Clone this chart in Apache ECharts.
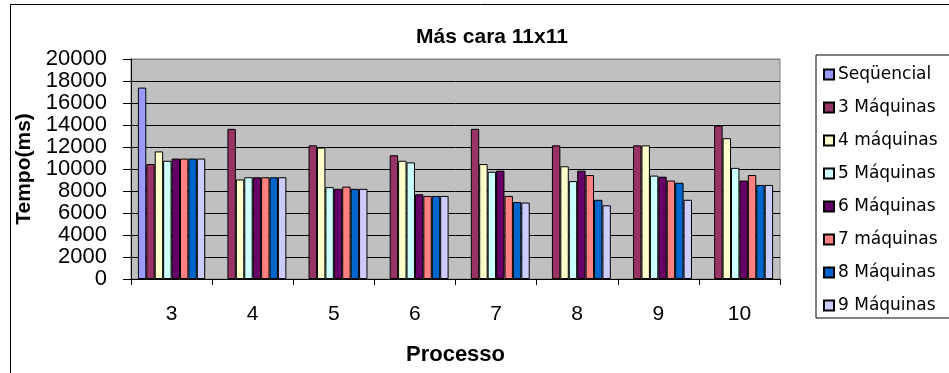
<!DOCTYPE html>
<html>
<head>
<meta charset="utf-8">
<script src="https://cdn.jsdelivr.net/npm/echarts@6/dist/echarts.min.js"></script>
<style>
html,body{margin:0;padding:0;background:#fff;}
#chart{width:949px;height:373px;}
</style>
</head>
<body>
<div id="chart"></div>
<script>
var categories = ['3', '4', '5', '6', '7', '8', '9', '10'];
var seriesNames = ['Seqüencial', '3 Máquinas', '4 máquinas', '5 Máquinas', '6 Máquinas', '7 máquinas', '8 Máquinas', '9 Máquinas'];
var seqencial = [17400, null, null, null, null, null, null, null];
var maq3 = [10450, 13650, 12150, 11250, 13650, 12150, 12150, 13950];
var maq4 = [11600, 9050, 11950, 10750, 10450, 10250, 12150, 12800];
var maq5 = [10750, 9250, 8350, 10600, 9750, 8900, 9400, 10100];
var maq6 = [10950, 9250, 8200, 7700, 9850, 9850, 9300, 8950];
var maq7 = [10950, 9250, 8400, 7550, 7550, 9450, 8950, 9450];
var maq8 = [10950, 9250, 8200, 7550, 7000, 7200, 8750, 8550];
var maq9 = [10950, 9250, 8200, 7550, 6950, 6700, 7200, 8550];
var colors = ['#9999FF', '#993366', '#FFFFCC', '#CCFFFF', '#660066', '#FF8080', '#0066CC', '#CCCCFF'];
var titleText = 'Más cara 11x11';
var yName = 'Tempo(ms)';
var xName = 'Processo';

var allData = [seqencial, maq3, maq4, maq5, maq6, maq7, maq8, maq9];
var series = allData.map(function (d, i) {
  return {
    name: seriesNames[i],
    type: 'bar',
    data: d,
    barGap: '0%',
    barCategoryGap: '17%',
    itemStyle: { color: colors[i], borderColor: '#000', borderWidth: 1 }
  };
});

var splitColors = ['#000','#000','#000','#000','#000','#000','#000','#000','#000','#000','#808080'];

var chart = echarts.init(document.getElementById('chart'), null, { renderer: 'canvas' });
chart.setOption({
  animation: false,
  backgroundColor: '#fff',
  title: {
    text: titleText,
    left: 487, top: 22, textAlign: 'center',
    textStyle: { fontFamily: 'Liberation Sans', fontWeight: 'bold', fontSize: 21, color: '#000' }
  },
  graphic: [{
    type: 'rect', z: -1,
    shape: { x: 10.5, y: 4.5, width: 960, height: 400 },
    style: { fill: 'none', stroke: '#000', lineWidth: 1 }
  }],
  legend: {
    orient: 'vertical',
    left: 816, top: 55,
    padding: [11, 40, 4, 7],
    itemGap: 16,
    itemWidth: 10, itemHeight: 10,
    icon: 'rect',
    borderColor: '#000', borderWidth: 1,
    textStyle: { fontFamily: 'DejaVu Sans', fontSize: 17, lineHeight: 17, color: '#000', padding: [0, 0, 0, -1] },
    data: seriesNames
  },
  grid: {
    left: 131, right: 169, top: 59, bottom: 94,
    show: true, backgroundColor: '#C0C0C0', borderColor: '#808080', borderWidth: 1
  },
  xAxis: {
    type: 'category',
    data: categories,
    name: xName,
    nameLocation: 'middle',
    nameGap: 65,
    nameTextStyle: { fontFamily: 'Liberation Sans', fontWeight: 'bold', fontSize: 22, color: '#000' },
    axisLine: { show: true, lineStyle: { color: '#000', width: 1 } },
    axisTick: { show: true, inside: false, length: 6, lineStyle: { color: '#000' } },
    axisLabel: { margin: 25, fontFamily: 'Liberation Sans', fontSize: 21, color: '#000' },
    splitLine: { show: false }
  },
  yAxis: {
    type: 'value',
    min: 0, max: 20000, interval: 2000,
    name: yName,
    nameLocation: 'middle',
    nameRotate: 90,
    nameGap: 82,
    nameTextStyle: { fontFamily: 'Liberation Sans', fontWeight: 'bold', fontSize: 21, color: '#000' },
    axisLine: { show: true, lineStyle: { color: '#000', width: 1 } },
    axisTick: { show: true, inside: false, length: 8, lineStyle: { color: '#000' } },
    axisLabel: {
      margin: 24, fontFamily: 'Liberation Sans', fontSize: 22, color: '#000',
      formatter: function (v) { return String(v); }
    },
    splitLine: { show: true, lineStyle: { color: splitColors, width: 1 } }
  },
  series: series
});
</script>
</body>
</html>
